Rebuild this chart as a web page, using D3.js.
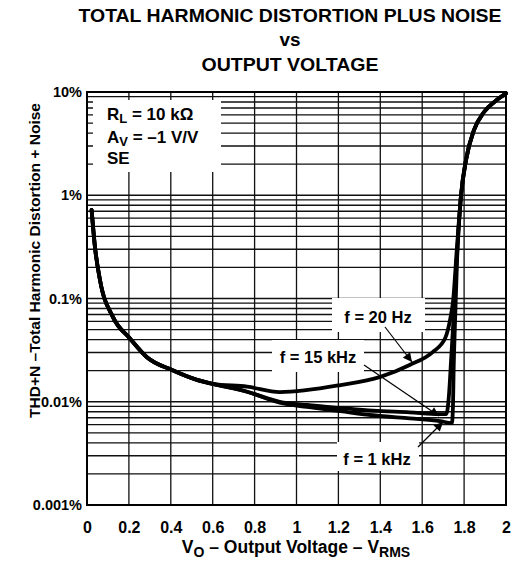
<!DOCTYPE html>
<html><head><meta charset="utf-8">
<script src="https://cdn.jsdelivr.net/npm/d3@7"></script>
<style>
body{margin:0;background:#fff}
text{font-family:"Liberation Sans",Arial,Helvetica,sans-serif;font-weight:bold;fill:#000}
</style>
</head><body>
<svg id="c" width="513" height="562"></svg>
<script>
// ---- data ----
const xTicks = [0, 0.2, 0.4, 0.6, 0.8, 1, 1.2, 1.4, 1.6, 1.8, 2];
const xTickLabels = ["0", "0.2", "0.4", "0.6", "0.8", "1", "1.2", "1.4", "1.6", "1.8", "2"];
const yTicks = [0.001, 0.01, 0.1, 1, 10];
const yTickLabels = ["0.001%", "0.01%", "0.1%", "1%", "10%"];
const seriesNames = ["f = 20 Hz", "f = 15 kHz", "f = 1 kHz"];

const x20Hz = [0.022, 0.038, 0.062, 0.124, 0.205, 0.286, 0.406, 0.525, 0.601, 0.764, 0.92, 1.21, 1.40, 1.54, 1.65, 1.71, 1.733, 1.748, 1.765, 1.785, 1.809, 1.847, 1.895, 1.957, 2.0];
const y20Hz = [0.72, 0.315, 0.151, 0.066, 0.041, 0.027, 0.0203, 0.0163, 0.0149, 0.0140, 0.0124, 0.0145, 0.0174, 0.0227, 0.0303, 0.0414, 0.062, 0.097, 0.295, 0.98, 2.19, 4.28, 6.4, 8.4, 9.7];

const x15kHz = [0.022, 0.038, 0.062, 0.124, 0.205, 0.286, 0.406, 0.525, 0.601, 0.764, 0.92, 1.05, 1.21, 1.365, 1.54, 1.685, 1.715, 1.728, 1.738, 1.752, 1.766, 1.785, 1.809, 1.847, 1.895, 1.957, 2.0];
const y15kHz = [0.72, 0.315, 0.151, 0.066, 0.041, 0.027, 0.0203, 0.0163, 0.0149, 0.0125, 0.0100, 0.0093, 0.0087, 0.0082, 0.0079, 0.0076, 0.0076, 0.0118, 0.0254, 0.077, 0.264, 0.98, 2.19, 4.28, 6.4, 8.4, 9.7];

const x1kHz = [0.022, 0.038, 0.062, 0.124, 0.205, 0.286, 0.406, 0.525, 0.601, 0.764, 0.92, 1.05, 1.21, 1.365, 1.54, 1.685, 1.742, 1.747, 1.750, 1.757, 1.766, 1.785, 1.809, 1.847, 1.895, 1.957, 2.0];
const y1kHz = [0.72, 0.315, 0.151, 0.066, 0.041, 0.027, 0.0203, 0.0163, 0.0149, 0.0125, 0.0098, 0.0089, 0.0081, 0.0074, 0.0069, 0.0065, 0.0062, 0.0093, 0.0202, 0.062, 0.225, 0.98, 2.19, 4.28, 6.4, 8.4, 9.7];

// ---- layout ----
const svg = d3.select("#c");
const L = 87, R = 506, T = 92, B = 505;
const x = d3.scaleLinear().domain([0, 2]).range([L, R]);
const y = d3.scaleLog().domain([0.001, 10]).range([B, T]);

// titles
const title = [["TOTAL HARMONIC DISTORTION PLUS NOISE", 22, 423], ["vs", 46, 21], ["OUTPUT VOLTAGE", 71, 177]];
title.forEach(([s, yy, len]) => {
  svg.append("text").attr("x", 290).attr("y", yy).attr("text-anchor", "middle")
    .attr("font-size", 18).attr("textLength", len).attr("lengthAdjust", "spacingAndGlyphs").text(s);
});

// grid
const g = svg.append("g");
const minor = y.ticks().filter(v => v > 0.001 && v < 10);
g.selectAll("line.h").data(minor).join("line")
  .attr("x1", L).attr("x2", R).attr("y1", d => y(d)).attr("y2", d => y(d))
  .attr("stroke", "#111").attr("stroke-width", 1.3);
g.selectAll("line.v").data(xTicks.slice(1, -1)).join("line")
  .attr("x1", d => x(d)).attr("x2", d => x(d)).attr("y1", T).attr("y2", B)
  .attr("stroke", "#111").attr("stroke-width", 1.3);

// white boxes that mask grid behind annotations
const masks = [[93, 100, 128, 72], [332, 298, 93, 34], [272, 340, 92, 32], [337, 442, 82, 29]];
svg.selectAll("rect.m").data(masks).join("rect")
  .attr("x", d => d[0]).attr("y", d => d[1]).attr("width", d => d[2]).attr("height", d => d[3])
  .attr("fill", "#fff");

// frame
svg.append("rect").attr("x", L).attr("y", T).attr("width", R - L).attr("height", B - T)
  .attr("fill", "none").attr("stroke", "#000").attr("stroke-width", 2);

// axes tick labels
const xAxis = d3.axisBottom(x).tickValues(xTicks).tickSize(0).tickPadding(17)
  .tickFormat((d, i) => xTickLabels[i]);
const xa = svg.append("g").attr("transform", `translate(0,${B})`).call(xAxis);
xa.select(".domain").remove();
xa.selectAll("text").attr("font-size", 16).attr("font-family", null).attr("fill", "#000");

const yAxis = d3.axisLeft(y).tickValues(yTicks).tickSize(0).tickPadding(5)
  .tickFormat((d, i) => yTickLabels[i]);
const ya = svg.append("g").attr("transform", `translate(${L},0)`).call(yAxis);
ya.select(".domain").remove();
ya.selectAll("text").attr("font-size", 14.5).attr("font-family", null).attr("fill", "#000");

// axis titles
const xt = svg.append("text").attr("x", 296).attr("y", 553).attr("text-anchor", "middle").attr("font-size", 17.5);
xt.append("tspan").text("V");
xt.append("tspan").attr("font-size", 14).attr("dy", 4).text("O");
xt.append("tspan").attr("dy", -4).text(" – Output Voltage – V");
xt.append("tspan").attr("font-size", 14).attr("dy", 4).text("RMS");

svg.append("text").attr("transform", "translate(40,260.5) rotate(-90)").attr("text-anchor", "middle")
  .attr("font-size", 15).attr("textLength", 315).attr("lengthAdjust", "spacingAndGlyphs")
  .text("THD+N –Total Harmonic Distortion + Noise");

// legend box text
const lg = svg.append("g").attr("font-size", 17);
const t1 = lg.append("text").attr("x", 107).attr("y", 120);
t1.append("tspan").text("R"); t1.append("tspan").attr("font-size", 13).attr("dy", 3).text("L");
t1.append("tspan").attr("dy", -3).text(" = 10 kΩ");
const t2 = lg.append("text").attr("x", 107).attr("y", 143);
t2.append("tspan").text("A"); t2.append("tspan").attr("font-size", 13).attr("dy", 3).text("V");
t2.append("tspan").attr("dy", -3).text(" = –1 V/V");
lg.append("text").attr("x", 107).attr("y", 164).text("SE");

// curves
const line = d3.line().x(d => x(d[0])).y(d => y(d[1])).curve(d3.curveMonotoneX);
const series = [[x20Hz, y20Hz], [x15kHz, y15kHz], [x1kHz, y1kHz]];
svg.selectAll("path.s").data(series).join("path")
  .attr("d", d => line(d[0].map((v, i) => [v, d[1][i]])))
  .attr("fill", "none").attr("stroke", "#000").attr("stroke-width", 3.8)
  .attr("stroke-linejoin", "round").attr("stroke-linecap", "round");

// arrows
svg.append("defs").append("marker").attr("id", "ah").attr("viewBox", "0 0 10 10")
  .attr("refX", 10).attr("refY", 5).attr("markerWidth", 11).attr("markerHeight", 9)
  .attr("markerUnits", "userSpaceOnUse").attr("orient", "auto")
  .append("path").attr("d", "M0,0L10,5L0,10Z").attr("fill", "#000");
const arrows = [[385, 327, 412, 362], [364, 365, 439, 416], [418, 447, 443, 422]];
svg.selectAll("line.a").data(arrows).join("line")
  .attr("x1", d => d[0]).attr("y1", d => d[1]).attr("x2", d => d[2]).attr("y2", d => d[3])
  .attr("stroke", "#000").attr("stroke-width", 1.2).attr("marker-end", "url(#ah)");

// curve labels
const labelPos = [[378, 323], [318, 363], [377, 465]];
svg.selectAll("text.cl").data(seriesNames).join("text")
  .attr("x", (d, i) => labelPos[i][0]).attr("y", (d, i) => labelPos[i][1])
  .attr("text-anchor", "middle").attr("font-size", 16.5).text(d => d);
</script>
</body></html>
